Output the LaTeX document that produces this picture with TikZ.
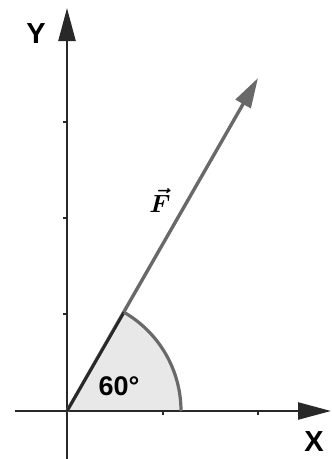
\documentclass[tikz,border=0pt]{standalone}
\usepackage{fontspec}
\newfontfamily\lab{Liberation Sans}
\usetikzlibrary{arrows.meta,calc}
\definecolor{axiscol}{RGB}{40,40,40}
\definecolor{veccol}{RGB}{105,105,105}
\definecolor{sectfill}{RGB}{232,232,232}
\tikzset{
  axisline/.style={draw=axiscol, line width=2.4pt, -{Triangle[length=33pt,width=17pt]}},
  tickmark/.style={draw=axiscol, line width=1.6pt},
  vecline/.style={draw=veccol, line width=3.4pt, -{Triangle[length=30pt,width=17pt]}},
  axislabel/.style={font=\lab\bfseries\fontsize{29}{31}\selectfont, text=black, inner sep=0pt},
}
\begin{document}
\begin{tikzpicture}[x=1pt,y=-1pt]
\useasboundingbox (0,0) rectangle (332,459);
\coordinate (O) at (67,411);
\coordinate (ybot) at (67,459);
\coordinate (ytop) at (67,8);
\coordinate (xleft) at (15,411);
\coordinate (xright) at (331,411);
\coordinate (ftip) at (258,78);
% sector
\fill[sectfill] (O) -- ++(0:114) arc[start angle=0,end angle=-60,radius=114] -- cycle;
% axes
\draw[axisline] (ybot) -- (ytop);
\draw[axisline] (xleft) -- (xright);
% ticks
\foreach \yy in {122,218,314} \draw[tickmark] (63,\yy) -- (67,\yy);
\foreach \xx in {163,258} \draw[tickmark] (\xx,411) -- (\xx,415);
% vector
\draw[vecline] (O) -- (ftip);
% sector edges
\draw[axiscol, line width=2.8pt] (O) -- ($(O)+(-60:114)$);
\draw[veccol, line width=3.2pt] (O) ++(0:114) coordinate (arcstart) arc[start angle=0,end angle=-60,radius=114] coordinate (arcend);
% labels
\node[axislabel] (ylab) at (36,34) {Y};
\node[axislabel] (xlab) at (314,442) {X};
\node[inner sep=0pt, font=\boldmath\fontsize{26}{28}\selectfont] (flab) at (160,200) {$\vec{F}$};
\node[inner sep=0pt, font=\lab\bfseries\fontsize{27}{29}\selectfont] (ang) at (119,386) {60°};
\end{tikzpicture}
\end{document}
